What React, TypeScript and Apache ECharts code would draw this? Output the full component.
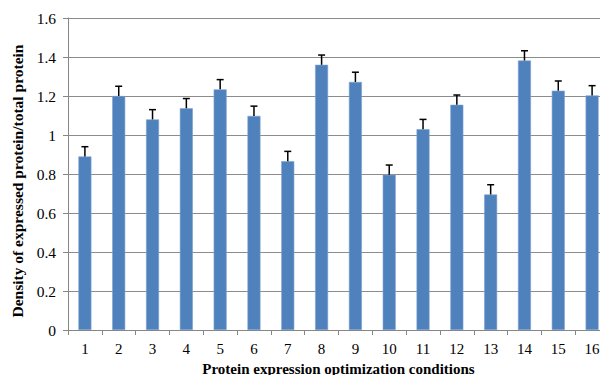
import React, { useEffect, useRef } from "react";
import * as echarts from "echarts";

const categories = ["1","2","3","4","5","6","7","8","9","10","11","12","13","14","15","16"];
const densityValues = [0.89, 1.2, 1.08, 1.137, 1.234, 1.098, 0.866, 1.36, 1.272, 0.796, 1.03, 1.155, 0.695, 1.382, 1.227, 1.203];
const errorValues = [0.05, 0.05, 0.05, 0.05, 0.05, 0.05, 0.05, 0.05, 0.05, 0.05, 0.05, 0.05, 0.05, 0.05, 0.05, 0.05];
const yTicks = { min: 0, max: 1.6, interval: 0.2 };

const FONT = "'Liberation Serif', 'Times New Roman', serif";

export default function App() {
  const ref = useRef<HTMLDivElement>(null);
  useEffect(() => {
    if (!ref.current) return;
    const chart = echarts.init(ref.current, null, { renderer: "svg" });
    const errData = densityValues.map((v, i) => [i, v, errorValues[i]]);
    chart.setOption({
      animation: false,
      backgroundColor: "#ffffff",
      grid: { left: 68, top: 18, width: 541, height: 312, containLabel: false, outerBoundsMode: "none" },
      xAxis: {
        type: "category",
        data: categories,
        name: "Protein expression optimization conditions",
        nameLocation: "middle",
        nameGap: 31,
        nameTextStyle: { fontFamily: FONT, fontWeight: "bold", fontSize: 15, color: "#000" },
        axisLine: { lineStyle: { color: "#868686", width: 1 } },
        axisTick: { show: true, length: 5, lineStyle: { color: "#868686" } },
        axisLabel: { fontFamily: FONT, fontSize: 15, color: "#000", margin: 11 },
      },
      yAxis: {
        type: "value",
        min: yTicks.min,
        max: yTicks.max,
        interval: yTicks.interval,
        name: "Density of expressed protein/total protein",
        nameLocation: "middle",
        nameGap: 42,
        nameTextStyle: { fontFamily: FONT, fontWeight: "bold", fontSize: 15.5, color: "#000", padding: [0, 14, 0, 0] },
        axisLine: { show: true, lineStyle: { color: "#868686", width: 1 } },
        axisTick: { show: true, length: 5, inside: false, lineStyle: { color: "#868686" } },
        axisLabel: { fontFamily: FONT, fontSize: 15.5, color: "#000", margin: 12 },
        splitLine: { lineStyle: { color: "#8c8c8c", width: 1.2 } },
      },
      series: [
        {
          type: "bar",
          data: densityValues,
          barWidth: 13,
          itemStyle: { color: "#4f81bd", borderColor: "#7fa3d0", borderWidth: 0.6 },
          z: 2,
        },
        {
          type: "custom",
          data: errData,
          z: 3,
          renderItem: (params: any, api: any) => {
            const idx = api.value(0);
            const v = api.value(1);
            const e = api.value(2);
            const p0 = api.coord([idx, v]);
            const p1 = api.coord([idx, v + e]);
            const hw = 3.5;
            const st = { stroke: "#000", lineWidth: 1.5 };
            return {
              type: "group",
              children: [
                { type: "line", shape: { x1: p0[0], y1: p0[1], x2: p1[0], y2: p1[1] }, style: st },
                { type: "line", shape: { x1: p1[0] - hw, y1: p1[1], x2: p1[0] + hw, y2: p1[1] }, style: st },
              ],
            };
          },
        },
      ],
    });
    return () => chart.dispose();
  }, []);
  return (
    <div
      ref={ref}
      style={{ position: "fixed", left: 0, top: 0, width: 600, height: 375, background: "#fff" }}
    />
  );
}
